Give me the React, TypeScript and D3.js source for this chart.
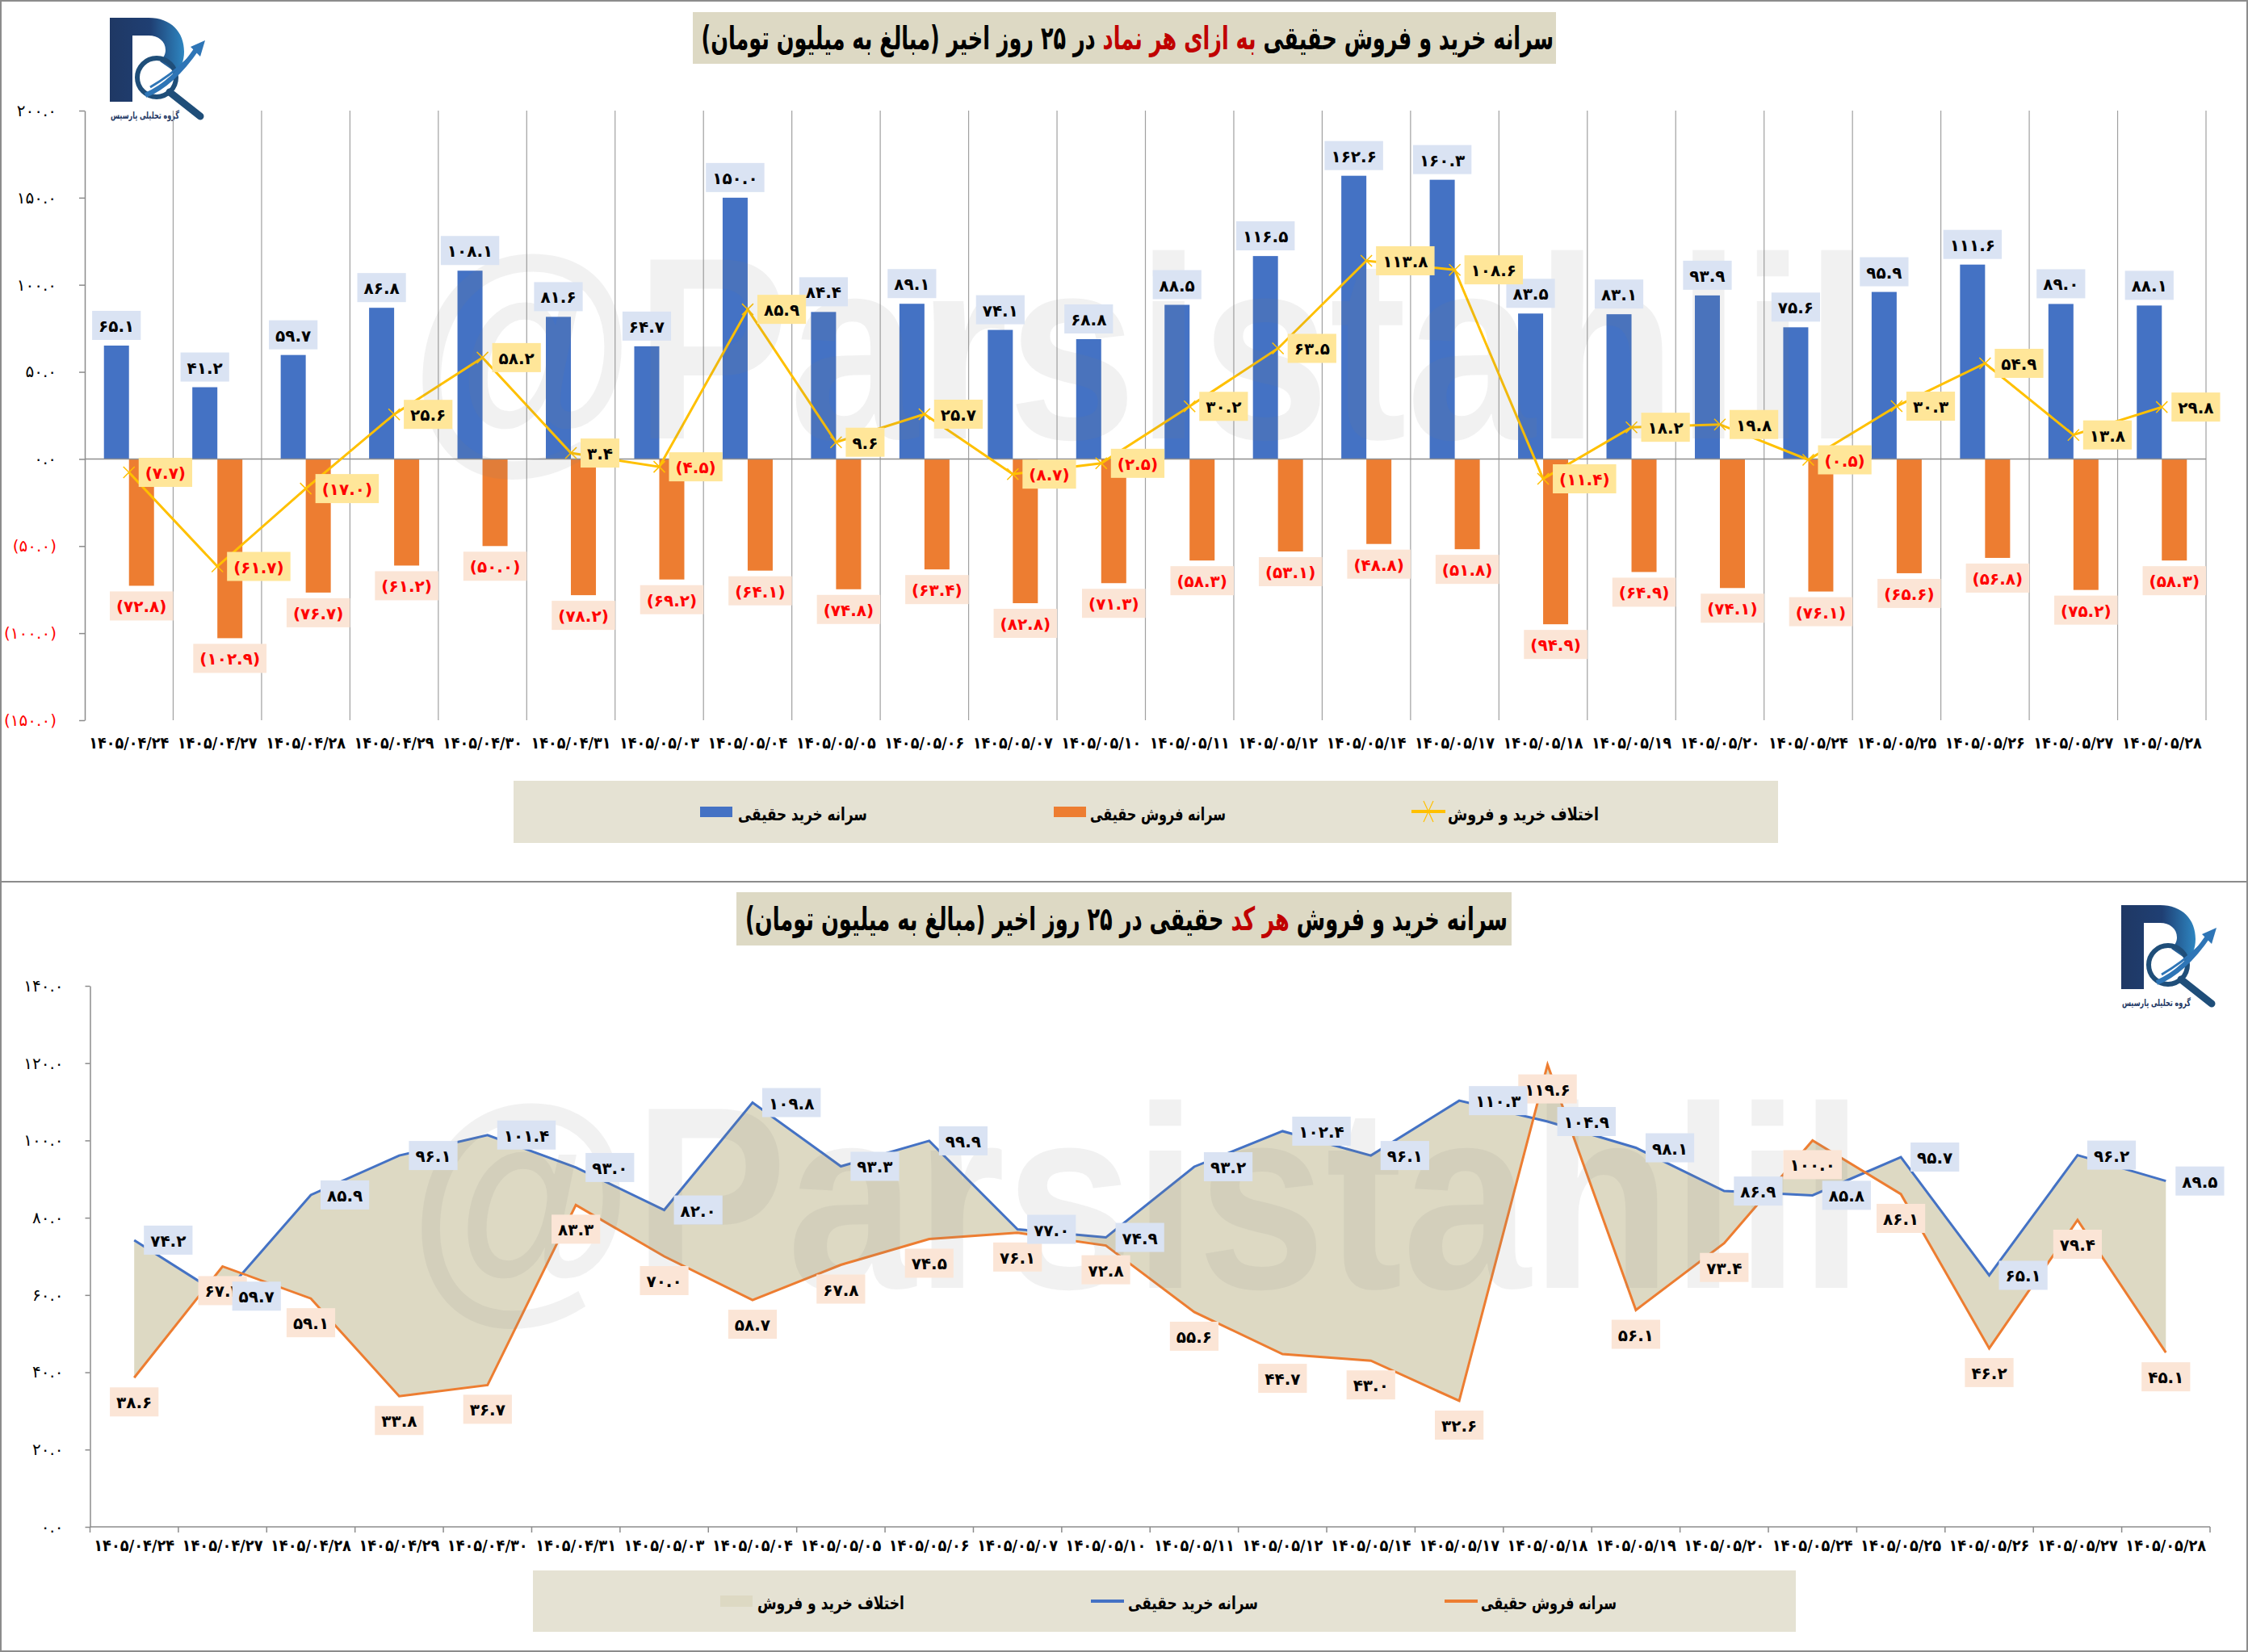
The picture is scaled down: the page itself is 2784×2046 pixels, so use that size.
import { useEffect, useRef } from "react";
import * as d3 from "d3";

// categories (shared by both charts)
const dates = [
  "۱۴۰۵/۰۴/۲۴", "۱۴۰۵/۰۴/۲۷", "۱۴۰۵/۰۴/۲۸", "۱۴۰۵/۰۴/۲۹", "۱۴۰۵/۰۴/۳۰", "۱۴۰۵/۰۴/۳۱",
  "۱۴۰۵/۰۵/۰۳", "۱۴۰۵/۰۵/۰۴", "۱۴۰۵/۰۵/۰۵", "۱۴۰۵/۰۵/۰۶", "۱۴۰۵/۰۵/۰۷", "۱۴۰۵/۰۵/۱۰",
  "۱۴۰۵/۰۵/۱۱", "۱۴۰۵/۰۵/۱۲", "۱۴۰۵/۰۵/۱۴", "۱۴۰۵/۰۵/۱۷", "۱۴۰۵/۰۵/۱۸", "۱۴۰۵/۰۵/۱۹",
  "۱۴۰۵/۰۵/۲۰", "۱۴۰۵/۰۵/۲۴", "۱۴۰۵/۰۵/۲۵", "۱۴۰۵/۰۵/۲۶", "۱۴۰۵/۰۵/۲۷", "۱۴۰۵/۰۵/۲۸",
];

// top chart: per symbol
const symbolBuy = [65.1, 41.2, 59.7, 86.8, 108.1, 81.6, 64.7, 150.0, 84.4, 89.1, 74.1, 68.8, 88.5, 116.5, 162.6, 160.3, 83.5, 83.1, 93.9, 75.6, 95.9, 111.6, 89.0, 88.1];
const symbolSell = [-72.8, -102.9, -76.7, -61.2, -50.0, -78.2, -69.2, -64.1, -74.8, -63.4, -82.8, -71.3, -58.3, -53.1, -48.8, -51.8, -94.9, -64.9, -74.1, -76.1, -65.6, -56.8, -75.2, -58.3];
const symbolDiff = [-7.7, -61.7, -17.0, 25.6, 58.2, 3.4, -4.5, 85.9, 9.6, 25.7, -8.7, -2.5, 30.2, 63.5, 113.8, 108.6, -11.4, 18.2, 19.8, -0.5, 30.3, 54.9, 13.8, 29.8];
const topTicks = [-150, -100, -50, 0, 50, 100, 150, 200];

// bottom chart: per code
const codeBuy = [74.2, 59.7, 85.9, 96.1, 101.4, 93.0, 82.0, 109.8, 93.3, 99.9, 77.0, 74.9, 93.2, 102.4, 96.1, 110.3, 104.9, 98.1, 86.9, 85.8, 95.7, 65.1, 96.2, 89.5];
const codeSell = [38.6, 67.4, 59.1, 33.8, 36.7, 83.3, 70.0, 58.7, 67.8, 74.5, 76.1, 72.8, 55.6, 44.7, 43.0, 32.6, 119.6, 56.1, 73.4, 100.0, 86.1, 46.2, 79.4, 45.1];
const bottomTicks = [0, 20, 40, 60, 80, 100, 120, 140];

const legendTop = ["سرانه خرید حقیقی", "سرانه فروش حقیقی", "اختلاف خرید و فروش"];
const legendBottom = ["اختلاف خرید و فروش", "سرانه خرید حقیقی", "سرانه فروش حقیقی"];

const FONT = "'DejaVu Sans', sans-serif";
const BLUE = "#4472c4";
const ORANGE = "#ed7d31";
const GOLD = "#ffc000";
const RED = "#ff0000";

const FA = "۰۱۲۳۴۵۶۷۸۹";
const fa = (s: string) => s.replace(/[0-9]/g, (d) => FA[+d]);
const fmt = (v: number) =>
  v < 0 ? `(${fa(Math.abs(v).toFixed(1))})` : fa(v.toFixed(1));

// stretch a text so its box spans x0..x1, centred on cy
function fit(t: any, x0: number, x1: number, cy: number) {
  const b = t.node().getBBox();
  const s = (x1 - x0) / b.width;
  t.attr("transform", `translate(${x0 - b.x * s},${cy}) scale(${s},1)`);
}

function dataLabel(
  g: any, cx: number, cy: number, txt: string, color: string, bg: string,
  pos: "above" | "below" | "right", gap: number
) {
  const grp = g.append("g");
  const rect = grp.append("rect").attr("fill", bg);
  const t = grp
    .append("text")
    .attr("font-family", FONT)
    .attr("font-size", 20)
    .attr("font-weight", "bold")
    .attr("fill", color)
    .attr("text-anchor", "middle")
    .attr("dominant-baseline", "central")
    .text(txt);
  const b = t.node().getBBox();
  const w = b.width + 16;
  const h = 36;
  let bx = cx - w / 2;
  let by = cy + gap;
  if (pos === "above") by = cy - gap - h;
  if (pos === "right") {
    bx = cx + gap;
    by = cy - h / 2;
  }
  rect.attr("x", bx).attr("y", by).attr("width", w).attr("height", h);
  t.attr("x", bx + w / 2).attr("y", by + h / 2 + 1);
}

function title(svg: any, parts: [string, string][], box: number[], x0: number, x1: number) {
  svg.append("rect").attr("x", box[0]).attr("y", box[1]).attr("width", box[2]).attr("height", box[3]).attr("fill", "#ddd9c4");
  const t = svg
    .append("text")
    .attr("font-family", FONT)
    .attr("font-size", 40)
    .attr("font-weight", "bold")
    .attr("direction", "rtl")
    .attr("dominant-baseline", "central");
  parts.forEach(([s, c]) => t.append("tspan").attr("fill", c).text(s));
  fit(t, x0, x1, box[1] + box[3] / 2);
}

function legendText(svg: any, txt: string, x0: number, x1: number, cy: number) {
  const t = svg
    .append("text")
    .attr("font-family", FONT)
    .attr("font-size", 22)
    .attr("font-weight", "bold")
    .attr("dominant-baseline", "central")
    .attr("fill", "#000")
    .text(txt);
  fit(t, x0, x1, cy);
}

function watermark(svg: any, x: number, y: number, len: number) {
  svg
    .append("text")
    .attr("x", x)
    .attr("y", y)
    .attr("font-family", "'Liberation Sans', Arial, sans-serif")
    .attr("font-weight", "bold")
    .attr("font-size", 322)
    .attr("textLength", len)
    .attr("lengthAdjust", "spacingAndGlyphs")
    .attr("fill", "#7f7f7f")
    .attr("opacity", 0.1)
    .text("@Parsistahlil");
}

function logo(svg: any, tx: number, ty: number) {
  const g = svg.append("g").attr("transform", `translate(${tx},${ty})`);
  g.append("path")
    .attr("d", "M0,0 H48 C76,0 92,18 92,42 C92,54 88,62 82,68 L62,54 C67,49 69,45 69,40 C69,29 60,22 48,22 H28 V104 H0 Z")
    .attr("fill", "url(#logoGrad)");
  g.append("circle").attr("cx", 58).attr("cy", 74).attr("r", 24).attr("fill", "none").attr("stroke", "#1f4e79").attr("stroke-width", 6);
  g.append("line").attr("x1", 74).attr("y1", 92).attr("x2", 112).attr("y2", 122).attr("stroke", "#1f4e79").attr("stroke-width", 9).attr("stroke-linecap", "round");
  g.append("path").attr("d", "M44,96 Q78,82 108,38").attr("fill", "none").attr("stroke", "#2e75b6").attr("stroke-width", 6);
  g.append("path").attr("d", "M50,86 Q74,72 96,52").attr("fill", "none").attr("stroke", "#2e75b6").attr("stroke-width", 3);
  g.append("path").attr("d", "M100,36 L118,28 L112,48 Z").attr("fill", "#2e75b6");
  const t = g
    .append("text")
    .attr("font-family", FONT)
    .attr("font-size", 12)
    .attr("font-weight", "bold")
    .attr("dominant-baseline", "central")
    .attr("fill", "#1f3864")
    .text("گروه تحلیلی پارسیس");
  fit(t, 1, 86, 121);
}

const App = () => {
  const svgRef = useRef<SVGSVGElement>(null);

  useEffect(() => {
    const svg = d3.select(svgRef.current);
    svg.selectAll("*").remove();

    const grad = svg.append("defs").append("linearGradient").attr("id", "logoGrad").attr("x1", "0").attr("x2", "1");
    grad.append("stop").attr("offset", "0").attr("stop-color", "#1f3864");
    grad.append("stop").attr("offset", "0.55").attr("stop-color", "#1f3f73");
    grad.append("stop").attr("offset", "1").attr("stop-color", "#2e86c1");

    svg.append("rect").attr("width", 2784).attr("height", 2046).attr("fill", "#fff");
    svg.append("rect").attr("x", 1).attr("y", 1).attr("width", 2782).attr("height", 1091).attr("fill", "none").attr("stroke", "#8c8c8c").attr("stroke-width", 2);
    svg.append("rect").attr("x", 1).attr("y", 1092).attr("width", 2782).attr("height", 953).attr("fill", "none").attr("stroke", "#8c8c8c").attr("stroke-width", 2);

    // ---------------- top chart ----------------
    const xT = d3.scaleBand().domain(dates).range([105, 2732]);
    const bw = xT.bandwidth();
    const inner = d3.scaleBand().domain(["buy", "sell"]).range([0, bw]).paddingOuter(0.765);
    const yT = d3.scaleLinear().domain([-150, 200]).range([892, 137]);
    const cT = (i: number) => (xT(dates[i]) as number) + bw / 2;

    title(
      svg,
      [
        ["سرانه خرید و فروش حقیقی ", "#000"],
        ["به ازای هر نماد", "#c00000"],
        [" در ۲۵ روز اخیر (مبالغ به میلیون تومان)", "#000"],
      ],
      [858, 15, 1069, 64],
      868,
      1924
    );
    logo(svg, 136, 22);

    const top = svg.append("g");
    top
      .selectAll(".grid")
      .data(dates)
      .join("line")
      .attr("x1", (d) => (xT(d) as number) + bw)
      .attr("x2", (d) => (xT(d) as number) + bw)
      .attr("y1", yT(200))
      .attr("y2", yT(-150))
      .attr("stroke", "#a0a0a0")
      .attr("stroke-width", 1.2);

    top
      .selectAll(".buy")
      .data(symbolBuy)
      .join("rect")
      .attr("x", (_, i) => (xT(dates[i]) as number) + (inner("buy") as number))
      .attr("width", inner.bandwidth())
      .attr("y", (v) => yT(v))
      .attr("height", (v) => yT(0) - yT(v))
      .attr("fill", BLUE);
    top
      .selectAll(".sell")
      .data(symbolSell)
      .join("rect")
      .attr("x", (_, i) => (xT(dates[i]) as number) + (inner("sell") as number))
      .attr("width", inner.bandwidth())
      .attr("y", yT(0))
      .attr("height", (v) => yT(v) - yT(0))
      .attr("fill", ORANGE);

    top.append("line").attr("x1", 105).attr("x2", 2732).attr("y1", yT(0)).attr("y2", yT(0)).attr("stroke", "#8f8f8f").attr("stroke-width", 1.5);

    const yAxisT = d3
      .axisLeft(yT)
      .tickValues(topTicks)
      .tickSize(7)
      .tickSizeOuter(0)
      .tickPadding(28)
      .tickFormat((v) => fmt(+v));
    const ga = top.append("g").attr("transform", "translate(105,0)").call(yAxisT);
    ga.selectAll("path,line").attr("stroke", "#8c8c8c").attr("stroke-width", 1.5);
    ga.selectAll("text")
      .attr("font-family", FONT)
      .attr("font-size", 20)
      .attr("fill", (v: any) => (v < 0 ? RED : "#000"));

    top
      .selectAll(".xl")
      .data(dates)
      .join("text")
      .attr("font-family", FONT)
      .attr("font-size", 20)
      .attr("font-weight", "bold")
      .attr("dominant-baseline", "central")
      .text((d) => d)
      .each(function (_, i) {
        const c = cT(i);
        fit(d3.select(this), c - 49.5, c + 49.5, 920);
      });

    const line = d3
      .line<number>()
      .x((_, i) => cT(i))
      .y((v) => yT(v));
    top.append("path").datum(symbolDiff).attr("d", line).attr("fill", "none").attr("stroke", GOLD).attr("stroke-width", 3);
    top
      .selectAll(".mk")
      .data(symbolDiff)
      .join("path")
      .attr("transform", (v, i) => `translate(${cT(i)},${yT(v)})`)
      .attr("d", "M-7,-7L7,7M-7,7L7,-7")
      .attr("stroke", GOLD)
      .attr("stroke-width", 1.5);

    watermark(svg, 507, 543, 1808);

    const labT = svg.append("g");
    symbolBuy.forEach((v, i) =>
      dataLabel(labT, (xT(dates[i]) as number) + (inner("buy") as number) + inner.bandwidth() / 2, yT(v), fmt(v), "#000", "#dae3f3", "above", 7)
    );
    symbolSell.forEach((v, i) =>
      dataLabel(labT, (xT(dates[i]) as number) + (inner("sell") as number) + inner.bandwidth() / 2, yT(v), fmt(v), RED, "#fbe5d6", "below", 7)
    );
    symbolDiff.forEach((v, i) =>
      dataLabel(labT, cT(i), yT(v), fmt(v), v < 0 ? RED : "#000", "#ffe699", "right", 12)
    );

    // top legend
    svg.append("rect").attr("x", 636).attr("y", 967).attr("width", 1566).attr("height", 77).attr("fill", "#e5e2d3");
    svg.append("rect").attr("x", 867).attr("y", 999).attr("width", 40).attr("height", 13).attr("fill", BLUE);
    legendText(svg, legendTop[0], 914, 1074, 1009);
    svg.append("rect").attr("x", 1305).attr("y", 999).attr("width", 40).attr("height", 13).attr("fill", ORANGE);
    legendText(svg, legendTop[1], 1350, 1518, 1009);
    svg.append("line").attr("x1", 1748).attr("x2", 1790).attr("y1", 1005).attr("y2", 1005).attr("stroke", GOLD).attr("stroke-width", 4);
    svg.append("path").attr("transform", "translate(1769,1005)").attr("d", "M-6,-13L6,13M-6,13L6,-13").attr("stroke", GOLD).attr("stroke-width", 1.2);
    legendText(svg, legendTop[2], 1793, 1980, 1009);

    // ---------------- bottom chart ----------------
    const xB = d3.scaleBand().domain(dates).range([111.5, 2737]);
    const bwB = xB.bandwidth();
    const yB = d3.scaleLinear().domain([0, 140]).range([1891, 1221]);
    const cB = (i: number) => (xB(dates[i]) as number) + bwB / 2;

    title(
      svg,
      [
        ["سرانه خرید و فروش ", "#000"],
        ["هر کد", "#c00000"],
        [" حقیقی در ۲۵ روز اخیر (مبالغ به میلیون تومان)", "#000"],
      ],
      [912, 1105, 960, 66],
      923,
      1867
    );
    logo(svg, 2627, 1121);

    const bot = svg.append("g");
    const area = d3
      .area<number>()
      .x((_, i) => cB(i))
      .y0((_, i) => yB(codeSell[i]))
      .y1((v) => yB(v));
    bot.append("path").datum(codeBuy).attr("d", area).attr("fill", "#ddd9c3");

    const yAxisB = d3
      .axisLeft(yB)
      .tickValues(bottomTicks)
      .tickSize(6)
      .tickSizeOuter(0)
      .tickPadding(27)
      .tickFormat((v) => fa((+v).toFixed(1)));
    const gb = bot.append("g").attr("transform", "translate(111.5,0)").call(yAxisB);
    gb.selectAll("path,line").attr("stroke", "#8c8c8c").attr("stroke-width", 1.5);
    gb.selectAll("text").attr("font-family", FONT).attr("font-size", 20).attr("fill", "#000");

    bot.append("line").attr("x1", 111.5).attr("x2", 2737).attr("y1", yB(0)).attr("y2", yB(0)).attr("stroke", "#8c8c8c").attr("stroke-width", 1.5);
    bot
      .selectAll(".bt")
      .data([...dates.map((d) => xB(d) as number), 2737])
      .join("line")
      .attr("x1", (x) => x)
      .attr("x2", (x) => x)
      .attr("y1", yB(0))
      .attr("y2", yB(0) + 7)
      .attr("stroke", "#8c8c8c")
      .attr("stroke-width", 1.5);

    bot
      .selectAll(".xl")
      .data(dates)
      .join("text")
      .attr("font-family", FONT)
      .attr("font-size", 20)
      .attr("font-weight", "bold")
      .attr("dominant-baseline", "central")
      .text((d) => d)
      .each(function (_, i) {
        const c = cB(i);
        fit(d3.select(this), c - 50, c + 50, 1914);
      });

    const lineB = d3
      .line<number>()
      .x((_, i) => cB(i))
      .y((v) => yB(v));
    bot.append("path").datum(codeBuy).attr("d", lineB).attr("fill", "none").attr("stroke", BLUE).attr("stroke-width", 3);
    bot.append("path").datum(codeSell).attr("d", lineB).attr("fill", "none").attr("stroke", ORANGE).attr("stroke-width", 3);

    watermark(svg, 506, 1595, 1802);

    const labB = svg.append("g");
    codeSell.forEach((v, i) => dataLabel(labB, cB(i), yB(v), fmt(v), "#000", "#fbe5d6", "below", 12));
    codeBuy.forEach((v, i) => dataLabel(labB, cB(i), yB(v), fmt(v), "#000", "#dae3f3", "right", 12));

    // bottom legend
    svg.append("rect").attr("x", 660).attr("y", 1945).attr("width", 1564).attr("height", 76).attr("fill", "#e5e2d3");
    svg.append("rect").attr("x", 892).attr("y", 1976).attr("width", 40).attr("height", 14).attr("fill", "#ddd9c3");
    legendText(svg, legendBottom[0], 938, 1120, 1986);
    svg.append("line").attr("x1", 1351).attr("x2", 1392).attr("y1", 1983).attr("y2", 1983).attr("stroke", BLUE).attr("stroke-width", 4);
    legendText(svg, legendBottom[1], 1397, 1558, 1986);
    svg.append("line").attr("x1", 1789).attr("x2", 1830).attr("y1", 1983).attr("y2", 1983).attr("stroke", ORANGE).attr("stroke-width", 4);
    legendText(svg, legendBottom[2], 1834, 2002, 1986);

    return () => {
      svg.selectAll("*").remove();
    };
  }, []);

  return (
    <div>
      <svg
        ref={svgRef}
        width={2784}
        height={2046}
        style={{ position: "absolute", left: 0, top: 0, display: "block" }}
      />
    </div>
  );
};

export default App;
